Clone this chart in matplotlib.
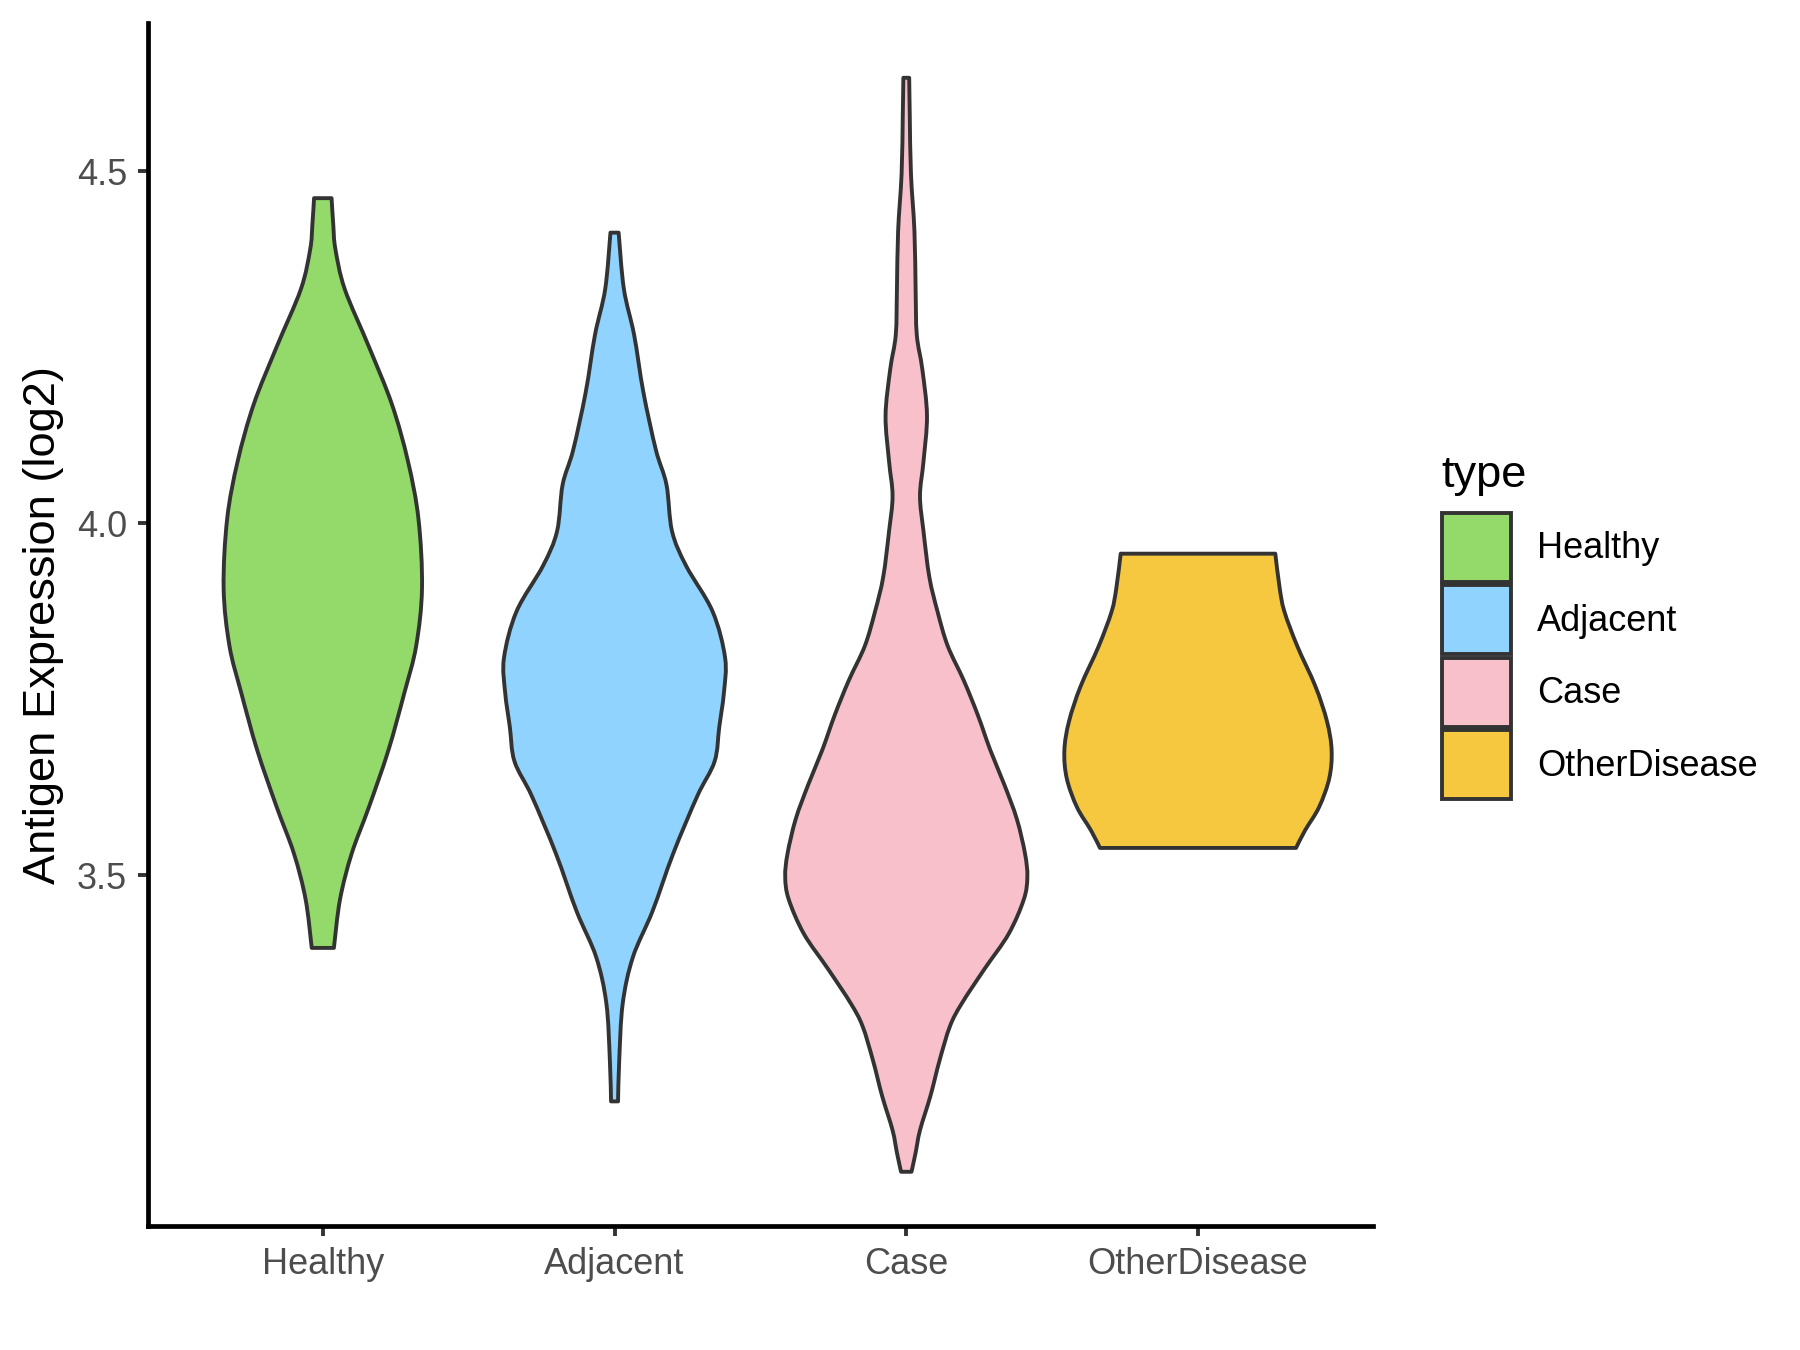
import matplotlib
matplotlib.use("Agg")
import matplotlib.pyplot as plt
import numpy as np
from matplotlib.patches import Patch, PathPatch
from matplotlib.path import Path

plt.rcParams["font.family"] = ["Liberation Sans", "DejaVu Sans"]

groups = ["Healthy", "Adjacent", "Case", "OtherDisease"]
colors = ["#93DA6A", "#8FD3FE", "#F8C0CB", "#F6C840"]

# violin outlines: expression level and half width (x units)
healthy_y = [4.462, 4.423, 4.390, 4.333, 4.251, 4.169, 4.088, 4.006, 3.908, 3.826, 3.760, 3.678, 3.597, 3.531,
             3.466, 3.397]
healthy_w = [0.030, 0.036, 0.043, 0.075, 0.158, 0.237, 0.292, 0.328, 0.340, 0.320, 0.280, 0.225, 0.158, 0.099,
             0.059, 0.038]

adjacent_y = [4.413, 4.333, 4.268, 4.186, 4.104, 4.055, 3.989, 3.940, 3.875, 3.809, 3.760, 3.711, 3.662, 3.613,
              3.531, 3.449, 3.384, 3.318, 3.237, 3.179]
adjacent_w = [0.014, 0.032, 0.067, 0.099, 0.142, 0.178, 0.197, 0.245, 0.336, 0.379, 0.375, 0.359, 0.343, 0.284,
              0.201, 0.130, 0.063, 0.028, 0.016, 0.012]

case_y = [4.633, 4.579, 4.497, 4.415, 4.333, 4.268, 4.219, 4.153, 4.088, 4.039, 3.989, 3.924, 3.875, 3.826,
          3.777, 3.728, 3.678, 3.629, 3.580, 3.531, 3.498, 3.466, 3.417, 3.367, 3.318, 3.286, 3.237, 3.187,
          3.138, 3.106, 3.079]
case_w = [0.010, 0.012, 0.016, 0.028, 0.032, 0.036, 0.055, 0.071, 0.059, 0.047, 0.059, 0.079, 0.107, 0.142,
          0.197, 0.245, 0.288, 0.336, 0.379, 0.407, 0.415, 0.403, 0.351, 0.268, 0.190, 0.150, 0.114, 0.083,
          0.047, 0.032, 0.018]

other_y = [3.957, 3.908, 3.875, 3.826, 3.768, 3.719, 3.678, 3.638, 3.597, 3.564, 3.539]
other_w = [0.265, 0.280, 0.296, 0.340, 0.403, 0.442, 0.458, 0.450, 0.415, 0.367, 0.336]

profiles = [(healthy_y, healthy_w), (adjacent_y, adjacent_w), (case_y, case_w), (other_y, other_w)]


def smooth_side(pts):
    # catmull-rom through the read points, as cubic bezier pieces
    verts = []
    n = len(pts)
    for i in range(n - 1):
        p0 = pts[max(i - 1, 0)]
        p1 = pts[i]
        p2 = pts[i + 1]
        p3 = pts[min(i + 2, n - 1)]
        verts += [p1 + (p2 - p0) / 6.0, p2 - (p3 - p1) / 6.0, p2]
    return verts


def violin_path(x, ys, ws):
    ys = np.asarray(ys, float)
    ws = np.asarray(ws, float)
    left = np.column_stack([x - ws, ys])
    right = np.column_stack([x + ws, ys])[::-1]
    verts = [left[0]]
    codes = [Path.MOVETO]
    lv = smooth_side(left)
    verts += lv
    codes += [Path.CURVE4] * len(lv)
    verts.append(right[0])
    codes.append(Path.LINETO)
    rv = smooth_side(right)
    verts += rv
    codes += [Path.CURVE4] * len(rv)
    verts.append(left[0])
    codes.append(Path.CLOSEPOLY)
    return Path(np.array(verts), codes)


fig = plt.figure(figsize=(9, 6.75), dpi=200)
ax = fig.add_axes([0.0821, 0.0915, 0.6807, 0.8914])

for i, (name, col, (ys, ws)) in enumerate(zip(groups, colors, profiles)):
    patch = PathPatch(violin_path(i + 1, ys, ws), facecolor=col, edgecolor="#333333",
                      linewidth=1.4, joinstyle="round")
    ax.add_patch(patch)

allv = np.concatenate([p[0] for p in profiles])
lo, hi = allv.min(), allv.max()
pad = 0.05 * (hi - lo)
ax.set_ylim(lo - pad, hi + pad)
ax.set_xlim(0.4, 4.6)
ax.set_xticks(range(1, 5))
ax.set_xticklabels(groups)
ax.set_yticks([3.5, 4.0, 4.5])
ax.set_yticklabels(["3.5", "4.0", "4.5"])
ax.tick_params(axis="both", colors="#333333", labelcolor="#4D4D4D", labelsize=13, length=3.5, width=1.4)
ax.tick_params(axis="x", pad=4)
ax.tick_params(axis="y", pad=4)
ax.set_ylabel("Antigen Expression (log2)", fontsize=16.3, color="black", labelpad=4.7)
for s in ["top", "right"]:
    ax.spines[s].set_visible(False)
for s in ["left", "bottom"]:
    ax.spines[s].set_color("black")
    ax.spines[s].set_linewidth(1.7)
    ax.spines[s].set_capstyle("projecting")

handles = [Patch(facecolor=c, edgecolor="#333333", linewidth=1.4, label=g) for g, c in zip(groups, colors)]
leg = fig.legend(handles=handles, title="type", loc="upper left", bbox_to_anchor=(0.791, 0.676),
                 frameon=False, fontsize=13, title_fontsize=16.3, handlelength=1.91, handleheight=2.563,
                 labelspacing=0.1, handletextpad=0.72, borderpad=0, alignment="left")
leg._legend_box.sep = 5.8

fig.savefig("out.png", dpi=200)
